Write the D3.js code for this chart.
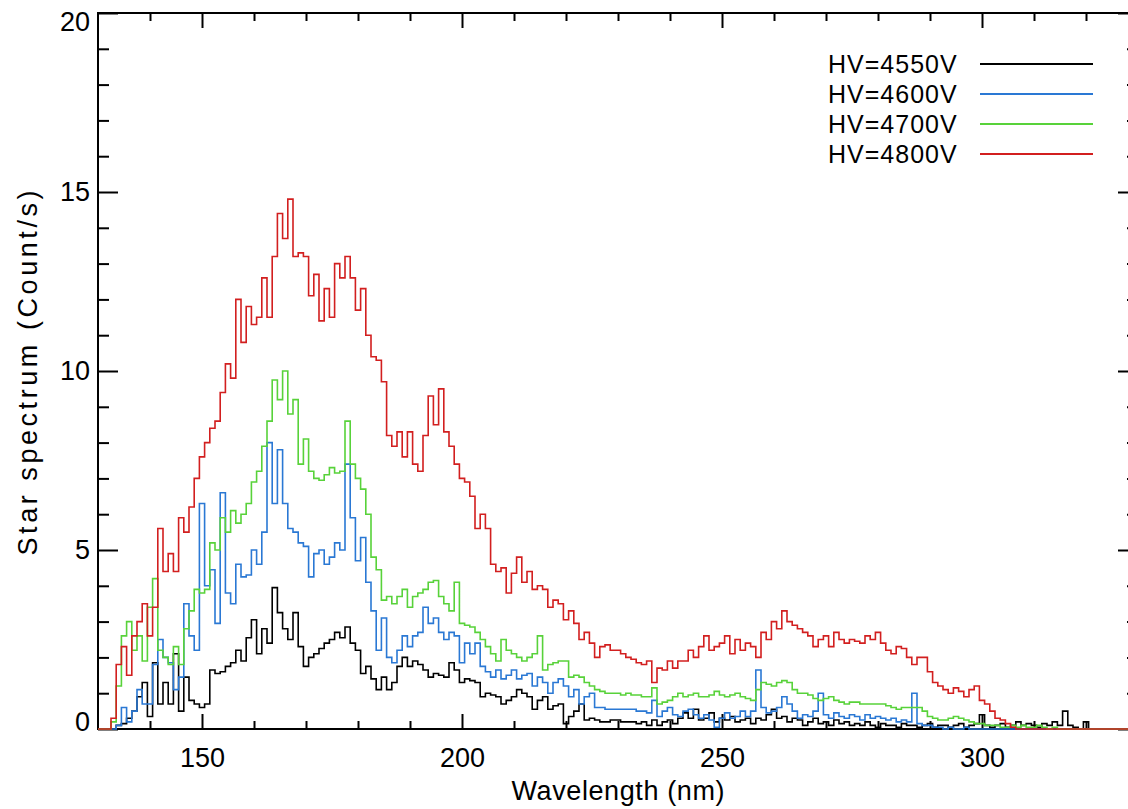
<!DOCTYPE html>
<html>
<head>
<meta charset="utf-8">
<script src="https://cdn.jsdelivr.net/npm/d3@7"></script>
<style>
  body { margin: 0; background: #fff; }
  svg { display: block; }
  .axis text { font-family: "Liberation Sans", Arial, sans-serif; font-size: 27px; fill: #000; }
  .axis line { stroke: #000; stroke-width: 2; }
  .axis path { display: none; }
  .label { font-family: "Liberation Sans", Arial, sans-serif; font-size: 27px; fill: #000; }
  .legend text { font-family: "Liberation Sans", Arial, sans-serif; font-size: 25px; fill: #000; letter-spacing: 1px; }
</style>
</head>
<body>
<div id="plotSect"></div>
<script>
/* global d3 */

// data, one value per nm //

let wavelengths = [
  130, 131, 132, 133, 134, 135, 136, 137, 138, 139,
  140, 141, 142, 143, 144, 145, 146, 147, 148, 149,
  150, 151, 152, 153, 154, 155, 156, 157, 158, 159,
  160, 161, 162, 163, 164, 165, 166, 167, 168, 169,
  170, 171, 172, 173, 174, 175, 176, 177, 178, 179,
  180, 181, 182, 183, 184, 185, 186, 187, 188, 189,
  190, 191, 192, 193, 194, 195, 196, 197, 198, 199,
  200, 201, 202, 203, 204, 205, 206, 207, 208, 209,
  210, 211, 212, 213, 214, 215, 216, 217, 218, 219,
  220, 221, 222, 223, 224, 225, 226, 227, 228, 229,
  230, 231, 232, 233, 234, 235, 236, 237, 238, 239,
  240, 241, 242, 243, 244, 245, 246, 247, 248, 249,
  250, 251, 252, 253, 254, 255, 256, 257, 258, 259,
  260, 261, 262, 263, 264, 265, 266, 267, 268, 269,
  270, 271, 272, 273, 274, 275, 276, 277, 278, 279,
  280, 281, 282, 283, 284, 285, 286, 287, 288, 289,
  290, 291, 292, 293, 294, 295, 296, 297, 298, 299,
  300, 301, 302, 303, 304, 305, 306, 307, 308, 309,
  310, 311, 312, 313, 314, 315, 316, 317, 318, 319,
  320, 321, 322, 323, 324, 325, 326, 327, 328, 329,
  330
];

let hv4550 = [
  0, 0, 0, 0, 0.1, 0.15, 0.3, 0.5, 0.9, 1.3,
  0.35, 1.85, 0.7, 1.3, 0.7, 2.1, 0.5, 1.45, 0.8, 0.7,
  0.6, 0.7, 1.65, 1.55, 1.6, 1.75, 1.85, 2.2, 1.9, 2.55,
  3.05, 2.1, 2.8, 2.4, 3.95, 3.25, 2.8, 2.5, 3.25, 2.3,
  1.75, 2.0, 2.1, 2.25, 2.4, 2.5, 2.7, 2.55, 2.85, 2.4,
  2.2, 1.55, 1.75, 1.4, 1.1, 1.45, 1.1, 1.3, 1.75, 2.0,
  1.75, 1.9, 1.8, 1.65, 1.45, 1.55, 1.5, 1.45, 1.85, 1.65,
  1.3, 1.4, 1.35, 1.3, 0.9, 1.0, 0.95, 0.9, 0.7, 0.8,
  0.9, 1.1, 1.0, 0.9, 0.55, 0.8, 0.9, 0.55, 0.65, 0.7,
  0.15, 0.35, 0.5, 0.7, 0.25, 0.3, 0.25, 0.2, 0.2, 0.25,
  0.25, 0.2, 0.2, 0.2, 0.15, 0.2, 0.1, 0.25, 0.1, 0.2,
  0.25, 0.15, 0.3, 0.45, 0.3, 0.55, 0.25, 0.3, 0.45, 0.2,
  0.3, 0.25, 0.35, 0.2, 0.25, 0.3, 0.15, 0.3, 0.25, 0.4,
  0.55, 0.3, 0.35, 0.2, 0.3, 0.25, 0.1, 0.2, 0.3, 0.15,
  0.2, 0.1, 0.25, 0.15, 0.2, 0.1, 0.15, 0.1, 0.2, 0.1,
  0.05, 0.15, 0.1, 0.1, 0.05, 0.15, 0.1, 0.1, 0.05, 0.1,
  0.15, 0.05, 0.1, 0.1, 0.05, 0.1, 0.15, 0.05, 0.1, 0.15,
  0.4, 0.1, 0.05, 0.1, 0.15, 0.05, 0.1, 0.2, 0.1, 0.15,
  0.1, 0.05, 0.15, 0.1, 0.2, 0.1, 0.5, 0.1, 0.05, 0,
  0.2, 0, 0, 0, 0, 0, 0, 0, 0, 0,
  0
];

let hv4600 = [
  0, 0, 0, 0, 0.1, 0.6, 0.2, 0.5, 1.1, 0.7,
  0.7, 1.8, 2.5, 2.0, 1.85, 1.1, 1.45, 3.5, 2.6, 2.2,
  6.3, 4.0, 4.45, 2.95, 6.6, 3.8, 3.5, 4.6, 4.25, 4.3,
  5.0, 4.6, 5.5, 8.0, 6.3, 7.8, 6.3, 5.6, 5.5, 5.2,
  5.1, 4.25, 4.9, 5.0, 4.6, 4.8, 5.2, 5.0, 7.4, 5.9,
  4.7, 5.35, 4.1, 3.3, 2.2, 3.1, 2.0, 1.85, 2.2, 2.6,
  2.3, 2.6, 2.7, 3.4, 2.95, 3.1, 2.7, 2.5, 2.7, 2.6,
  1.85, 2.4, 2.1, 2.4, 1.75, 1.6, 1.45, 1.65, 1.4, 1.5,
  1.65, 1.4, 1.5, 1.55, 1.2, 1.45, 1.3, 1.0, 1.3, 1.4,
  1.2, 0.9, 1.1, 0.7, 0.9, 1.0, 0.6, 0.6, 0.55, 0.55,
  0.55, 0.55, 0.55, 0.55, 0.5, 0.5, 0.45, 0.8, 0.35, 0.5,
  0.6, 0.4, 0.35, 0.5, 0.55, 0.4, 0.3, 0.4, 0.25, 0.05,
  0.3, 0.45, 0.3, 0.35, 0.5, 0.35, 0.5, 1.65, 0.6, 0.45,
  0.5, 0.6, 0.9, 0.7, 0.5, 0.3, 0.4, 0.35, 0.5, 1.0,
  0.4, 0.3, 0.45, 0.35, 0.3, 0.4, 0.35, 0.25, 0.4, 0.3,
  0.35, 0.3, 0.25, 0.3, 0.2, 0.25, 0.2, 1.0, 0.15, 0.1,
  0.1, 0.05, 0.05, 0, 0.05, 0, 0, 0.05, 0, 0,
  0, 0, 0, 0, 0, 0, 0, 0, 0, 0,
  0, 0, 0, 0, 0, 0, 0, 0, 0, 0,
  0, 0, 0, 0, 0, 0, 0, 0, 0, 0,
  0
];

let hv4700 = [
  0, 0, 0, 0.2, 1.2, 2.6, 3.0, 2.2, 2.6, 1.9,
  3.4, 4.2, 2.2, 2.0, 1.8, 2.3, 1.8, 2.8, 3.3, 3.9,
  3.8, 3.9, 5.2, 5.0, 5.9, 5.5, 6.1, 5.75, 6.0, 6.3,
  6.9, 7.2, 7.9, 8.6, 9.75, 9.2, 10.0, 8.8, 9.2, 7.4,
  8.1, 7.2, 7.0, 6.95, 7.1, 7.3, 7.15, 7.2, 8.6, 7.4,
  7.0, 6.7, 6.0, 4.8, 4.45, 3.6, 3.7, 3.5, 3.7, 3.9,
  3.4, 3.7, 3.8, 3.9, 4.1, 4.15, 3.7, 3.5, 3.3, 4.1,
  2.95, 2.9, 2.85, 2.7, 2.5, 2.3, 2.1, 1.9, 2.5, 2.2,
  2.1, 2.0, 1.9, 2.0, 2.1, 2.6, 1.65, 1.8, 1.85, 1.9,
  1.9, 1.45, 1.5, 1.45, 1.3, 1.2, 1.1, 1.05, 1.0, 1.0,
  1.0, 0.95, 1.0, 0.95, 0.95, 0.9, 0.9, 1.15, 0.7, 0.75,
  0.8, 0.9, 1.0, 0.9, 0.95, 1.0, 0.9, 0.9, 0.95, 1.05,
  0.95, 0.9, 0.95, 1.0, 0.9, 0.85, 0.8, 1.1, 1.3, 1.25,
  1.2, 1.3, 1.35, 1.3, 1.1, 1.0, 1.0, 0.95, 0.85, 0.8,
  0.85, 0.9, 0.8, 0.75, 0.7, 0.75, 0.75, 0.7, 0.7, 0.7,
  0.7, 0.7, 0.65, 0.6, 0.55, 0.6, 0.6, 0.6, 0.6, 0.5,
  0.35, 0.3, 0.25, 0.25, 0.3, 0.35, 0.3, 0.25, 0.2, 0.15,
  0.15, 0.1, 0.1, 0.1, 0.05, 0.05, 0.1, 0.05, 0.1, 0.05,
  0.05, 0.1, 0.05, 0, 0.05, 0, 0, 0, 0, 0,
  0, 0, 0, 0, 0, 0, 0, 0, 0, 0,
  0
];

let hv4800 = [
  0, 0, 0, 0.3, 1.8, 2.3, 1.5, 2.6, 3.0, 3.5,
  2.6, 3.4, 5.6, 4.4, 4.9, 4.4, 5.9, 5.5, 6.2, 7.0,
  7.6, 8.0, 8.4, 8.6, 9.4, 10.2, 9.8, 12.0, 10.8, 11.8,
  11.3, 11.5, 12.6, 11.5, 13.2, 14.4, 13.7, 14.8, 13.2, 13.3,
  13.2, 12.1, 12.7, 11.4, 12.3, 11.5, 13.0, 12.6, 13.2, 12.6,
  11.7, 12.3, 11.0, 10.4, 10.3, 9.7, 8.2, 7.9, 8.3, 7.6,
  8.3, 7.4, 7.2, 8.2, 9.3, 8.5, 9.5, 8.3, 7.9, 7.4,
  7.0, 6.9, 6.5, 5.6, 6.0, 5.6, 4.6, 4.4, 4.5, 3.8,
  4.35, 4.8, 4.1, 4.4, 3.9, 4.0, 3.9, 3.4, 3.6, 3.5,
  3.05, 3.3, 2.95, 2.5, 2.7, 2.4, 2.0, 2.3, 2.35, 2.2,
  2.2, 2.1, 2.0, 1.95, 1.85, 1.8, 1.9, 1.3, 1.7, 1.65,
  1.9, 1.7, 1.9, 1.9, 2.2, 2.0, 2.3, 2.6, 2.2, 2.3,
  2.4, 2.6, 2.1, 2.5, 2.2, 2.4, 2.3, 2.0, 2.7, 2.5,
  3.0, 2.8, 3.3, 3.0, 2.9, 2.8, 2.7, 2.6, 2.3, 2.5,
  2.6, 2.3, 2.7, 2.5, 2.4, 2.5, 2.45, 2.4, 2.6, 2.5,
  2.7, 2.4, 2.2, 2.1, 2.3, 2.25, 2.0, 1.8, 2.0, 2.0,
  1.6, 1.3, 1.2, 1.1, 1.0, 1.15, 1.05, 0.9, 1.1, 1.2,
  0.8, 0.7, 0.5, 0.3, 0.25, 0.15, 0.05, 0, 0, 0,
  0, 0, 0, 0, 0, 0, 0, 0, 0, 0,
  0, 0, 0, 0, 0, 0, 0, 0, 0, 0,
  0
];

let seriesNames = ["HV=4550V", "HV=4600V", "HV=4700V", "HV=4800V"];
let seriesValues = [hv4550, hv4600, hv4700, hv4800];
let seriesColors = ["#000000", "#2a78d4", "#58d23a", "#d21f1f"];

let xMajorTicks = [150, 200, 250, 300];
let xMinorTicks = [140, 160, 170, 180, 190, 210, 220, 230, 240, 260, 270, 280, 290, 310, 320];
let yMajorTicks = [0, 5, 10, 15, 20];
let yMinorTicks = [1, 2, 3, 4, 6, 7, 8, 9, 11, 12, 13, 14, 16, 17, 18, 19];

// Initial chart setup //

let SVGwidth = 1128,
SVGheight = 809,
margin = {top: 13, left: 98},
width = 1040,
height = 716;

let svg = d3.select("#plotSect").append("svg")
    .attr("width", SVGwidth)
    .attr("height", SVGheight)
    .append("g")
    .attr("transform", "translate(" + margin.left + "," + margin.top + ")");

let xScale = d3.scaleLinear().domain([130, 330]).range([0, width]);
let yScale = d3.scaleLinear().domain([0, 20]).range([height, 0]);

// frame //
svg.append("rect")
    .attr("x", 0)
    .attr("y", 0)
    .attr("width", width)
    .attr("height", height)
    .style("fill", "none")
    .style("stroke", "#000")
    .style("stroke-width", 2);

function addAxis(axis, transform) {
    svg.append("g")
        .attr("class", "axis")
        .attr("transform", transform)
        .call(axis);
}

// bottom and top //
addAxis(d3.axisBottom(xScale).tickValues(xMajorTicks).tickSize(-15).tickSizeOuter(0).tickPadding(19)
    .tickFormat(d3.format("d")), "translate(0," + height + ")");
addAxis(d3.axisBottom(xScale).tickValues(xMinorTicks).tickSize(-8).tickSizeOuter(0).tickFormat(""),
    "translate(0," + height + ")");
addAxis(d3.axisTop(xScale).tickValues(xMajorTicks).tickSize(-15).tickSizeOuter(0).tickFormat(""), "translate(0,0)");
addAxis(d3.axisTop(xScale).tickValues(xMinorTicks).tickSize(-8).tickSizeOuter(0).tickFormat(""), "translate(0,0)");

// left and right //
addAxis(d3.axisLeft(yScale).tickValues(yMajorTicks).tickSize(-20).tickSizeOuter(0).tickPadding(8)
    .tickFormat(d3.format("d")), "translate(0,0)");
addAxis(d3.axisLeft(yScale).tickValues(yMinorTicks).tickSize(-11).tickSizeOuter(0).tickFormat(""), "translate(0,0)");
addAxis(d3.axisRight(yScale).tickValues(yMajorTicks).tickSize(-20).tickSizeOuter(0).tickFormat(""),
    "translate(" + width + ",0)");
addAxis(d3.axisRight(yScale).tickValues(yMinorTicks).tickSize(-11).tickSizeOuter(0).tickFormat(""),
    "translate(" + width + ",0)");

// end labels of the y axis sit a little inside //
svg.selectAll(".axis .tick text")
    .filter(function(d) { return d === 0; })
    .attr("dy", "0.05em");
svg.selectAll(".axis .tick text")
    .filter(function(d) { return d === 20; })
    .attr("dy", "0.65em");

svg.append("text")
    .attr("class", "label")
    .attr("x", width / 2)
    .attr("y", height + 71)
    .attr("textLength", 213)
    .style("text-anchor", "middle")
    .text("Wavelength (nm)");

svg.append("text")
    .attr("class", "label")
    .attr("transform", "rotate(-90)")
    .attr("x", 0 - (height / 2) - 2)
    .attr("y", 0 - 61)
    .attr("textLength", 365)
    .style("text-anchor", "middle")
    .text("Star spectrum (Count/s)");

// spectra //
let line = d3.line()
    .x(function(d, i) { return xScale(wavelengths[i]); })
    .y(function(d) { return yScale(d); })
    .curve(d3.curveStep);

seriesValues.forEach(function(values, i) {
    svg.append("path")
        .datum(values)
        .attr("d", line)
        .style("fill", "none")
        .style("stroke", seriesColors[i])
        .style("stroke-width", 1.6)
        .style("stroke-linejoin", "miter");
});

// legend //
let legend = svg.selectAll(".legend")
    .data(seriesNames)
    .enter().append("g")
    .attr("class", "legend")
    .attr("transform", function(d, i) { return "translate(0," + (51 + i * 30) + ")"; });

legend.append("line")
    .attr("x1", 882)
    .attr("x2", 995)
    .attr("y1", 0)
    .attr("y2", 0)
    .style("stroke", function(d, i) { return seriesColors[i]; })
    .style("stroke-width", 2);

legend.append("text")
    .attr("x", 730)
    .attr("y", 9)
    .text(function(d) { return d; });
</script>
</body>
</html>
